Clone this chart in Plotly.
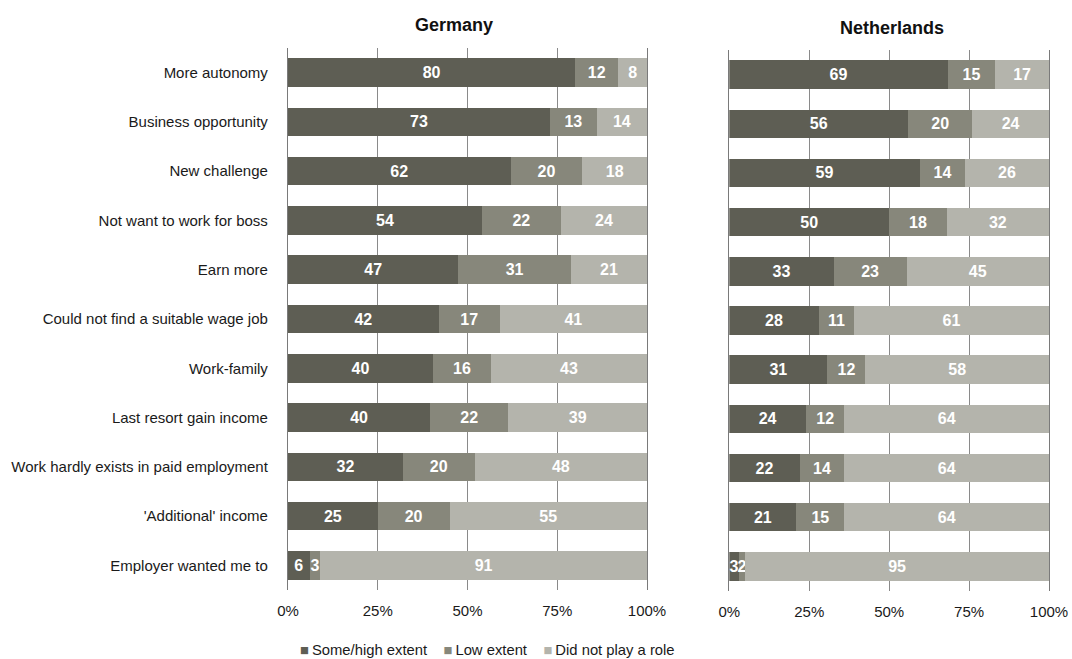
import numpy as np
import plotly.graph_objects as go

categories = [
    "More autonomy",
    "Business opportunity",
    "New challenge",
    "Not want to work for boss",
    "Earn more",
    "Could not find a suitable wage job",
    "Work-family",
    "Last resort gain income",
    "Work hardly exists in paid employment",
    "'Additional' income",
    "Employer wanted me to",
]
series_names = ["Some/high extent", "Low extent", "Did not play a role"]

germany_high = [80, 73, 62, 54, 47, 42, 40, 40, 32, 25, 6]
germany_low = [12, 13, 20, 22, 31, 17, 16, 22, 20, 20, 3]
germany_none = [8, 14, 18, 24, 21, 41, 43, 39, 48, 55, 91]

nl_high = [69, 56, 59, 50, 33, 28, 31, 24, 22, 21, 3]
nl_low = [15, 20, 14, 18, 23, 11, 12, 12, 14, 15, 2]
nl_none = [17, 24, 26, 32, 45, 61, 58, 64, 64, 64, 95]

tick_vals = [0, 25, 50, 75, 100]
tick_text = ["0%", "25%", "50%", "75%", "100%"]

colors = ["#5e5e54", "#87877b", "#b4b4ac"]

W, H = 1072, 659
FONT = "Liberation Sans, Arial, sans-serif"

fig = go.Figure()


def add_country(high, low, none, xa, ya):
    arr = np.array([high, low, none], dtype=float)
    totals = arr.sum(axis=0)
    shares = arr / totals * 100.0
    for i, name in enumerate(series_names):
        fig.add_trace(go.Bar(
            y=categories,
            x=shares[i],
            orientation="h",
            name=name,
            marker=dict(color=colors[i], line=dict(width=0)),
            text=[str(v) for v in arr[i].astype(int)],
            textposition="inside",
            insidetextanchor="middle",
            textangle=0,
            textfont=dict(color="white", size=16, family=FONT, weight="bold"),
            xaxis=xa,
            yaxis=ya,
            showlegend=False,
            hoverinfo="skip",
            cliponaxis=False,
        ))


add_country(germany_high, germany_low, germany_none, "x", "y")
add_country(nl_high, nl_low, nl_none, "x2", "y2")


def px_x(p):
    return p / W


def px_y(p):
    return 1 - p / H


xcommon = dict(
    range=[0, 100],
    tickvals=tick_vals,
    ticktext=tick_text,
    showgrid=True,
    gridcolor="#8a8a8a",
    gridwidth=1,
    zeroline=False,
    showline=False,
    ticks="",
    tickfont=dict(size=15, family=FONT, color="#1a1a1a"),
    fixedrange=True,
    ticklabelstandoff=10,
    automargin=False,
)

ycommon = dict(
    autorange="reversed",
    showline=True,
    mirror=True,
    linecolor="#7a7a7a",
    linewidth=1.3,
    showgrid=False,
    ticks="",
    fixedrange=True,
    automargin=False,
)

fig.update_layout(
    width=W,
    height=H,
    margin=dict(l=0, r=0, t=0, b=0, autoexpand=False),
    paper_bgcolor="white",
    plot_bgcolor="white",
    barmode="stack",
    bargap=0.42,
    font=dict(family=FONT, color="#1a1a1a"),
    uniformtext=dict(minsize=16, mode="show"),
    xaxis=dict(domain=[px_x(288), px_x(647)], anchor="y", **xcommon),
    xaxis2=dict(domain=[px_x(729.3), px_x(1049)], anchor="y2", **xcommon),
    yaxis=dict(
        domain=[px_y(590), px_y(48)],
        anchor="x",
        tickfont=dict(size=15, family=FONT, color="#1a1a1a"),
        ticklabelstandoff=16,
        **ycommon,
    ),
    yaxis2=dict(
        domain=[px_y(591), px_y(50)],
        anchor="x2",
        showticklabels=False,
        **ycommon,
    ),
    showlegend=False,
)

annotations = [
    dict(text="<b>Germany</b>", x=px_x(454), y=px_y(25), xref="paper", yref="paper",
         showarrow=False, font=dict(size=18, family=FONT, color="#111111"),
         xanchor="center", yanchor="middle"),
    dict(text="<b>Netherlands</b>", x=px_x(892), y=px_y(28), xref="paper", yref="paper",
         showarrow=False, font=dict(size=18, family=FONT, color="#111111"),
         xanchor="center", yanchor="middle"),
]

legend_parts = []
for c, n in zip(colors, series_names):
    legend_parts.append(f"<span style='color:{c}'>■</span>\u2009{n}")
legend_text = "    ".join(legend_parts)
annotations.append(dict(
    text=legend_text, x=px_x(298), y=px_y(650), xref="paper", yref="paper",
    showarrow=False, font=dict(size=14.8, family=FONT, color="#1a1a1a"),
    xanchor="left", yanchor="middle",
))
fig.update_layout(annotations=annotations)

fig.write_html(
    "out.html",
    config={"displayModeBar": False},
    post_script="document.body.style.margin='0';document.body.style.overflow='hidden';",
)
